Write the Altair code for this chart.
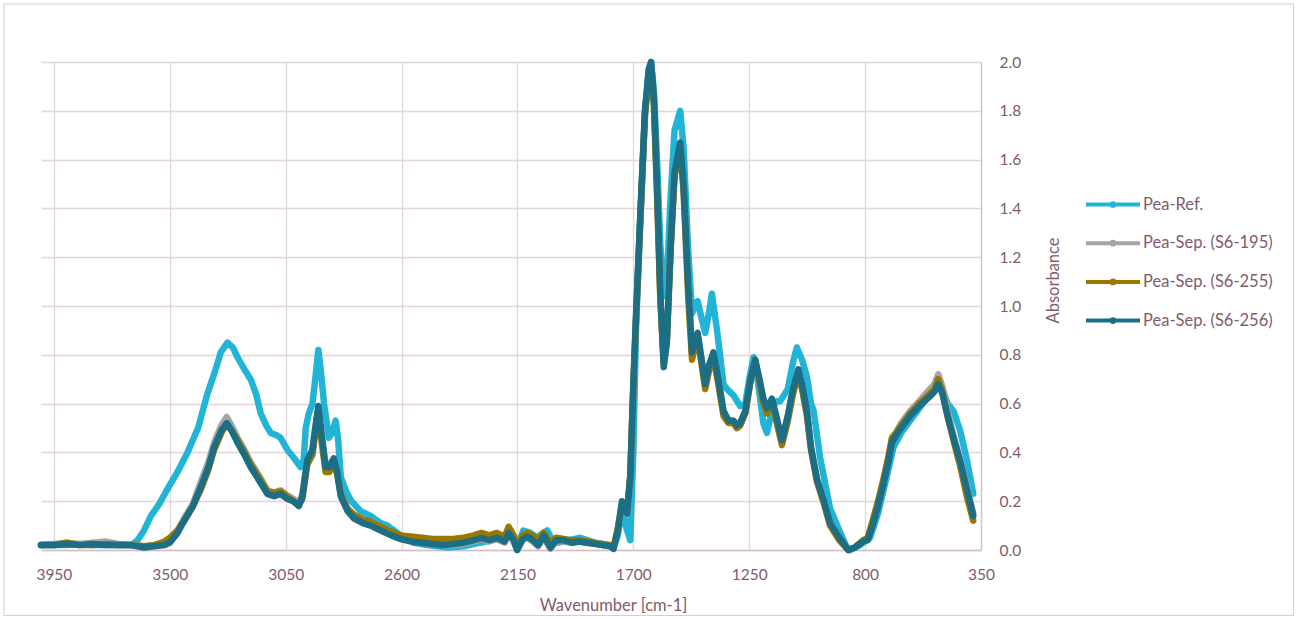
import altair as alt
import pandas as pd

series_names = ["Pea-Ref.", "Pea-Sep. (S6-195)", "Pea-Sep. (S6-255)", "Pea-Sep. (S6-256)"]
series_colors = ["#22B4D6", "#A5A5A5", "#9C7700", "#1B6E83"]

x_ticks = [3950, 3500, 3050, 2600, 2150, 1700, 1250, 800, 350]
y_ticks = [0.0, 0.2, 0.4, 0.6, 0.8, 1.0, 1.2, 1.4, 1.6, 1.8, 2.0]

# Pea-Ref. wavenumbers / absorbance
wn_ref = [
    4000, 3950, 3900, 3850, 3800, 3750, 3700, 3650, 3625, 3600,
    3573, 3540, 3509, 3470, 3431, 3390, 3354, 3325, 3302, 3276,
    3255, 3237, 3210, 3186, 3165, 3147, 3125, 3108, 3085, 3070,
    3043, 3020, 2992, 2980, 2972, 2960, 2946, 2935, 2923, 2912,
    2901, 2882, 2870, 2856, 2846, 2836, 2815, 2798, 2760, 2720,
    2681, 2655, 2604, 2553, 2500, 2421, 2360, 2293, 2250, 2200,
    2177, 2165, 2151, 2127, 2100, 2075, 2050, 2034, 2015, 1990,
    1950, 1906, 1850, 1789, 1777, 1760, 1744, 1730, 1712, 1700,
    1690, 1673, 1655, 1640, 1631, 1620, 1608, 1595, 1582, 1570,
    1555, 1540, 1518, 1505, 1487, 1472, 1460, 1450, 1435, 1421,
    1405, 1395, 1375, 1350, 1337, 1312, 1285, 1265, 1250, 1233,
    1215, 1195, 1181, 1160, 1145, 1130, 1100, 1080, 1065, 1045,
    1026, 1010, 1000, 975, 936, 900, 871, 858, 820, 781,
    750, 716, 690, 660, 625, 590, 548, 522, 500, 480,
    457, 431, 405, 380,
]
ref_vals = [
    0.02, 0.02, 0.02, 0.025, 0.02, 0.02, 0.02, 0.02, 0.04, 0.08,
    0.14, 0.19, 0.25, 0.32, 0.40, 0.50, 0.64, 0.73, 0.81, 0.85,
    0.83, 0.79, 0.74, 0.70, 0.64, 0.56, 0.51, 0.48, 0.47, 0.46,
    0.41, 0.38, 0.34, 0.37, 0.50, 0.56, 0.60, 0.70, 0.82, 0.72,
    0.60, 0.46, 0.48, 0.53, 0.45, 0.30, 0.24, 0.205, 0.16, 0.14,
    0.11, 0.10, 0.06, 0.03, 0.02, 0.01, 0.015, 0.03, 0.04, 0.05,
    0.08, 0.05, 0.01, 0.08, 0.07, 0.05, 0.07, 0.08, 0.04, 0.03,
    0.04, 0.05, 0.03, 0.02, 0.01, 0.06, 0.18, 0.10, 0.04, 0.40,
    0.90, 1.35, 1.78, 1.97, 2.00, 1.88, 1.60, 1.25, 1.04, 1.10,
    1.45, 1.72, 1.80, 1.65, 1.23, 0.97, 1.00, 1.02, 0.95, 0.89,
    0.98, 1.05, 0.90, 0.68, 0.66, 0.635, 0.59, 0.60, 0.70, 0.79,
    0.68, 0.52, 0.48, 0.58, 0.61, 0.61, 0.66, 0.77, 0.83, 0.78,
    0.71, 0.60, 0.57, 0.38, 0.17, 0.08, 0.01, 0.00, 0.02, 0.05,
    0.15, 0.30, 0.42, 0.48, 0.53, 0.58, 0.64, 0.70, 0.66, 0.60,
    0.57, 0.49, 0.37, 0.23,
]

# Pea-Sep. sample wavenumbers (shared by the three separated samples)
wn_sep = [
    4000, 3950, 3900, 3850, 3800, 3750, 3700, 3650, 3600, 3560,
    3520, 3500, 3470, 3444, 3410, 3379, 3350, 3328, 3300, 3279,
    3260, 3237, 3210, 3186, 3150, 3121, 3095, 3070, 3045, 3020,
    2999, 2985, 2966, 2946, 2935, 2923, 2910, 2895, 2880, 2863,
    2850, 2836, 2810, 2785, 2750, 2720, 2681, 2640, 2604, 2565,
    2520, 2480, 2440, 2400, 2360, 2320, 2290, 2260, 2230, 2200,
    2184, 2165, 2151, 2130, 2112, 2090, 2070, 2048, 2022, 2000,
    1971, 1940, 1910, 1880, 1850, 1820, 1790, 1777, 1760, 1744,
    1724, 1712, 1700, 1690, 1673, 1655, 1640, 1631, 1620, 1608,
    1595, 1582, 1570, 1555, 1540, 1518, 1505, 1487, 1472, 1460,
    1450, 1435, 1421, 1405, 1389, 1370, 1350, 1330, 1312, 1298,
    1285, 1265, 1245, 1227, 1210, 1195, 1181, 1162, 1145, 1123,
    1100, 1080, 1059, 1045, 1026, 1010, 987, 960, 936, 900,
    865, 840, 807, 790, 768, 750, 729, 710, 696, 680,
    660, 625, 590, 548, 530, 516, 500, 480, 457, 430,
    405, 380,
]
s195_vals = [
    0.02, 0.025, 0.03, 0.025, 0.03, 0.035, 0.025, 0.02, 0.015, 0.02,
    0.025, 0.04, 0.08, 0.13, 0.19, 0.28, 0.36, 0.44, 0.51, 0.545,
    0.51, 0.46, 0.41, 0.36, 0.30, 0.245, 0.235, 0.245, 0.225, 0.21,
    0.19, 0.23, 0.37, 0.41, 0.50, 0.58, 0.47, 0.35, 0.35, 0.375,
    0.32, 0.23, 0.17, 0.14, 0.12, 0.105, 0.085, 0.065, 0.05, 0.04,
    0.03, 0.025, 0.02, 0.02, 0.025, 0.035, 0.045, 0.035, 0.045, 0.03,
    0.065, 0.035, 0.0, 0.04, 0.05, 0.035, 0.015, 0.05, 0.005, 0.035,
    0.035, 0.03, 0.035, 0.03, 0.025, 0.02, 0.015, 0.005, 0.08, 0.19,
    0.15, 0.30, 0.67, 0.94, 1.36, 1.79, 1.96, 1.99, 1.84, 1.49,
    1.05, 0.76, 0.86, 1.25, 1.55, 1.66, 1.49, 1.09, 0.80, 0.85,
    0.88, 0.78, 0.69, 0.76, 0.80, 0.70, 0.57, 0.53, 0.53, 0.52,
    0.52, 0.57, 0.70, 0.78, 0.69, 0.61, 0.58, 0.61, 0.54, 0.45,
    0.55, 0.66, 0.73, 0.67, 0.57, 0.42, 0.29, 0.20, 0.11, 0.05,
    0.0, 0.01, 0.04, 0.045, 0.12, 0.19, 0.28, 0.37, 0.45, 0.48,
    0.52, 0.57, 0.61, 0.66, 0.68, 0.72, 0.67, 0.57, 0.47, 0.37,
    0.26, 0.15,
]
s255_vals = [
    0.02, 0.02, 0.03, 0.02, 0.02, 0.025, 0.02, 0.02, 0.015, 0.02,
    0.035, 0.05, 0.08, 0.12, 0.18, 0.25, 0.33, 0.41, 0.48, 0.515,
    0.49, 0.45, 0.40, 0.35, 0.29, 0.24, 0.235, 0.24, 0.22, 0.20,
    0.185, 0.21, 0.35, 0.39, 0.48, 0.57, 0.44, 0.32, 0.32, 0.36,
    0.31, 0.23, 0.17, 0.145, 0.125, 0.115, 0.095, 0.075, 0.06, 0.055,
    0.05, 0.045, 0.045, 0.045, 0.05, 0.06, 0.07, 0.06, 0.07, 0.055,
    0.095, 0.06, 0.015, 0.06, 0.07, 0.06, 0.04, 0.07, 0.03, 0.05,
    0.045, 0.04, 0.04, 0.035, 0.03, 0.025, 0.02, 0.01, 0.09, 0.19,
    0.17, 0.30, 0.66, 0.93, 1.35, 1.78, 1.95, 1.98, 1.82, 1.46,
    1.02, 0.77, 0.86, 1.23, 1.53, 1.65, 1.47, 1.04, 0.78, 0.84,
    0.87, 0.76, 0.66, 0.74, 0.79, 0.68, 0.55, 0.52, 0.52, 0.50,
    0.51, 0.56, 0.69, 0.77, 0.69, 0.60, 0.56, 0.60, 0.53, 0.43,
    0.53, 0.64, 0.72, 0.66, 0.55, 0.41, 0.28, 0.19, 0.10, 0.04,
    0.0, 0.01, 0.04, 0.05, 0.13, 0.20, 0.29, 0.38, 0.46, 0.48,
    0.51, 0.56, 0.60, 0.64, 0.66, 0.70, 0.65, 0.55, 0.45, 0.34,
    0.22, 0.12,
]
s256_vals = [
    0.02, 0.02, 0.025, 0.02, 0.025, 0.02, 0.02, 0.02, 0.01, 0.015,
    0.02, 0.03, 0.07, 0.12, 0.18, 0.26, 0.34, 0.42, 0.49, 0.52,
    0.49, 0.44, 0.39, 0.34, 0.28, 0.23, 0.22, 0.23, 0.21, 0.20,
    0.18, 0.22, 0.37, 0.41, 0.50, 0.59, 0.47, 0.34, 0.34, 0.375,
    0.32, 0.22, 0.16, 0.13, 0.11, 0.10, 0.08, 0.06, 0.045, 0.035,
    0.03, 0.025, 0.02, 0.025, 0.03, 0.04, 0.05, 0.04, 0.05, 0.035,
    0.07, 0.04, 0.0, 0.045, 0.055, 0.04, 0.02, 0.06, 0.01, 0.04,
    0.04, 0.03, 0.035, 0.03, 0.025, 0.02, 0.015, 0.005, 0.08, 0.20,
    0.15, 0.30, 0.68, 0.95, 1.37, 1.80, 1.97, 2.00, 1.85, 1.50,
    1.05, 0.75, 0.85, 1.25, 1.55, 1.67, 1.50, 1.09, 0.81, 0.86,
    0.89, 0.78, 0.68, 0.76, 0.81, 0.70, 0.57, 0.53, 0.53, 0.51,
    0.52, 0.57, 0.70, 0.78, 0.70, 0.62, 0.58, 0.62, 0.55, 0.45,
    0.55, 0.66, 0.74, 0.68, 0.57, 0.42, 0.29, 0.20, 0.11, 0.05,
    0.0, 0.01, 0.035, 0.04, 0.11, 0.18, 0.27, 0.36, 0.44, 0.47,
    0.50, 0.55, 0.59, 0.63, 0.65, 0.68, 0.64, 0.55, 0.46, 0.36,
    0.25, 0.14,
]

rows = []
for w, v in zip(wn_ref, ref_vals):
    rows.append({"series": series_names[0], "wn": w, "abs": v})
for name, vals in zip(series_names[1:], [s195_vals, s255_vals, s256_vals]):
    for w, v in zip(wn_sep, vals):
        rows.append({"series": name, "wn": w, "abs": v})
df = pd.DataFrame(rows)

TXT = "#7F5B6B"
GRID = "#E3D4DA"
DOM = "#D4BEC8"
FONT = "Lato"

# horizontal line with a small dot in the middle (stroked)
legend_symbol = ("M-1,0L1,0"
                 "M-0.05,0A0.05,0.05 0 1,1 0.05,0A0.05,0.05 0 1,1 -0.05,0")

x_enc = alt.X(
    "wn:Q",
    scale=alt.Scale(domain=[350, 4000], reverse=True, nice=False, zero=False),
    axis=alt.Axis(
        values=x_ticks, format="d", title="Wavenumber [cm-1]",
        grid=True, gridColor=GRID, gridWidth=1.3,
        domain=True, domainColor=DOM, domainWidth=1.3, ticks=False,
        labelPadding=17, labelFontSize=15.5, labelColor=TXT, labelFont=FONT,
        titleFont=FONT, titleFontSize=16.5, titleFontWeight="normal", titleColor=TXT,
        titleX=572, titleY=55, titleBaseline="middle", titleAlign="center",
        labelFlush=False,
    ),
)
y_enc = alt.Y(
    "abs:Q",
    scale=alt.Scale(domain=[0, 2], nice=False, zero=True),
    axis=alt.Axis(
        orient="right", values=y_ticks, format=".1f", title="Absorbance",
        grid=True, gridColor=GRID, gridWidth=1.3,
        domain=True, domainColor=DOM, domainWidth=1.3, ticks=False,
        labelPadding=18, labelFontSize=15.5, labelColor=TXT, labelFont=FONT,
        titleFont=FONT, titleFontSize=16.5, titleFontWeight="normal", titleColor=TXT,
        titleAngle=270, titleX=72, titleY=218, titleBaseline="middle", titleAlign="center",
        labelFlush=False,
    ),
)
color_enc = alt.Color(
    "series:N",
    scale=alt.Scale(domain=series_names, range=series_colors),
    legend=alt.Legend(
        title=None, orient="none", legendX=1043, legendY=135,
        symbolType=legend_symbol, symbolSize=2916, symbolStrokeWidth=4,
        clipHeight=15, rowPadding=21.7, labelOffset=1, padding=0,
        labelFont=FONT, labelFontSize=16.5, labelColor=TXT,
    ),
)

layers = []
for i, name in enumerate(series_names):
    layers.append(
        alt.Chart(df)
        .transform_filter(alt.datum.series == name)
        .mark_line(strokeWidth=6.5, strokeCap="round", strokeJoin="round")
        .encode(x=x_enc, y=y_enc, color=color_enc)
    )

frame = alt.Chart(alt.Data(values=[{}])).mark_rect(
    filled=False, stroke="#DCC9D1", strokeWidth=1
).encode(
    x=alt.value(-37), x2=alt.value(1252.5), y=alt.value(-58), y2=alt.value(553.5)
)

chart = alt.layer(*layers, frame).properties(
    width=940, height=488,
    autosize=alt.AutoSizeParams(type="none"),
    padding={"left": 41, "top": 62, "right": 317, "bottom": 70},
    background="white",
).configure_view(stroke=None)

chart.save("out.html", embed_options={"renderer": "svg", "actions": False})
